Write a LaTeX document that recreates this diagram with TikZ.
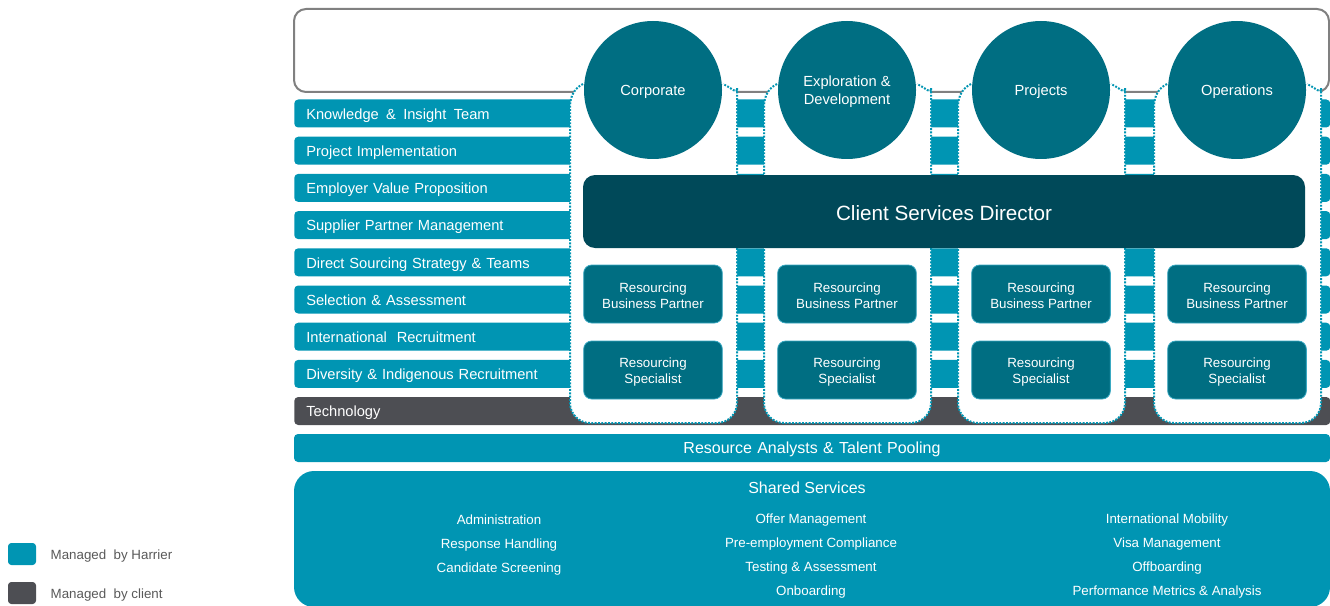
\documentclass[tikz,border=0pt]{standalone}
\usepackage{fontspec}
\setmainfont{Liberation Sans}
\usetikzlibrary{positioning}
\definecolor{harrier}{HTML}{0095B3}
\definecolor{hubteal}{HTML}{006E82}
\definecolor{director}{HTML}{004959}
\definecolor{clientgrey}{HTML}{4D4E53}
\definecolor{framegrey}{HTML}{808080}
\definecolor{legendtext}{HTML}{595959}
\definecolor{rimteal}{HTML}{3AA9C2}

\tikzset{
  band/.style={fill=harrier, rounded corners=3pt, minimum height=21pt,
    text width=759pt, inner xsep=9pt, inner ysep=0pt, align=left,
    text height=9.2pt, text depth=0.5pt,
    anchor=west, text=white, font=\fontsize{11}{13}\selectfont},
  region/.style={fill=white, draw=harrier, line width=1.5pt,
    dash pattern=on 1.4pt off 1.1pt},
  hubnode/.style={circle, fill=hubteal, minimum size=103.5pt, inner sep=0pt},
  hubtext/.style={text=white, align=center, font=\fontsize{11}{13.5}\selectfont},
  rolebox/.style={fill=hubteal, draw=rimteal, line width=0.6pt,
    rounded corners=6pt, minimum width=104pt, minimum height=43.5pt,
    inner sep=0pt},
  roletext/.style={text=white, align=center, font=\fontsize{10}{12}\selectfont},
  whitetext/.style={text=white, align=center},
  keybox/.style={rounded corners=2.5pt, minimum width=21pt,
    minimum height=16.5pt, inner sep=0pt},
  keytext/.style={anchor=west, text=legendtext, font=\fontsize{10}{12}\selectfont}
}

\begin{document}
\begin{tikzpicture}[x=0.75pt, y=-0.75pt]
\useasboundingbox (0,0) rectangle (1330,606);
\clip (0,0) rectangle (1330,606);

% frame above the teams
\draw[framegrey, line width=1.5pt, fill=white, rounded corners=9pt]
  (294,9) rectangle (1329,92);

% capability bands
\foreach \i/\nm/\lbl in {0/kit/{Knowledge\,\ \&\,\ Insight\,\ Team},
    1/impl/Project Implementation,
    2/evp/Employer Value Proposition,
    3/spm/Supplier Partner Management,
    4/dss/Direct Sourcing Strategy \& Teams,
    5/sel/Selection \& Assessment,
    6/intl/International \ Recruitment,
    7/div/Diversity \& Indigenous Recruitment}
  \node[band] (\nm) at (294,{113.5+37.2*\i}) {\lbl};
\node[band, fill=clientgrey] (tech) at (294,411) {Technology};

\node[band, anchor=center, align=center, font=\fontsize{12}{14}\selectfont]
  (rat) at (812,448) {Resource Analysts \& Talent Pooling};

% shared services panel
\fill[harrier, rounded corners=15pt] (294,471) rectangle (1330,607);
\node[whitetext, font=\fontsize{12}{14}\selectfont] (shared) at (807,488) {Shared Services};
\begin{scope}[every node/.style={whitetext, font=\fontsize{10}{18}\selectfont}]
  \node (svcleft) at (499,545) {Administration\\Response Handling\\Candidate Screening};
  \node (svcmid) at (811,556) {Offer Management\\Pre-employment Compliance\\Testing \& Assessment\\Onboarding};
  \node (svcright) at (1167,556) {International Mobility\\Visa Management\\Offboarding\\Performance Metrics \& Analysis};
\end{scope}

% business unit columns
\foreach \cx/\nm/\lbl in {653/corp/Corporate,
    847/expl/{Exploration \&\\Development},
    1041/proj/Projects,
    1237/ops/Operations} {
  \path[region] ({\cx-70},84) .. controls ({\cx-78},88) and ({\cx-83},95) .. ({\cx-83},108)
    [rounded corners=15pt] -- ({\cx-83},423) -- ({\cx+84},423) -- ({\cx+84},108) [sharp corners]
    .. controls ({\cx+84},95) and ({\cx+79},88) .. ({\cx+70},84);
  \node[hubnode] (\nm) at (\cx,90) {};
  \node[hubtext] (\nm text) at (\cx,92) {\lbl};
  \node[rolebox] (\nm rbp) at (\cx,294) {};
  \node[roletext] (\nm rbptext) at (\cx,296) {Resourcing\\Business Partner};
  \node[rolebox] (\nm rs) at (\cx,370) {};
  \node[roletext] (\nm rstext) at (\cx,372) {Resourcing\\Specialist};
}

\node[fill=director, rounded corners=9pt, minimum width=541.5pt,
  minimum height=54.75pt] (csd) at (944,211.5) {};
\node[whitetext, font=\fontsize{15.5}{18}\selectfont] (csdtext) at (944,213)
  {Client Services Director};

% legend
\node[keybox, fill=harrier] (keyh) at (22,554) {};
\node[keytext] (keyhtext) at (46,556) {Managed \ by Harrier};
\node[keybox, fill=clientgrey] (keyc) at (22,593) {};
\node[keytext] (keyctext) at (46,595) {Managed \ by client};
\end{tikzpicture}
\end{document}
